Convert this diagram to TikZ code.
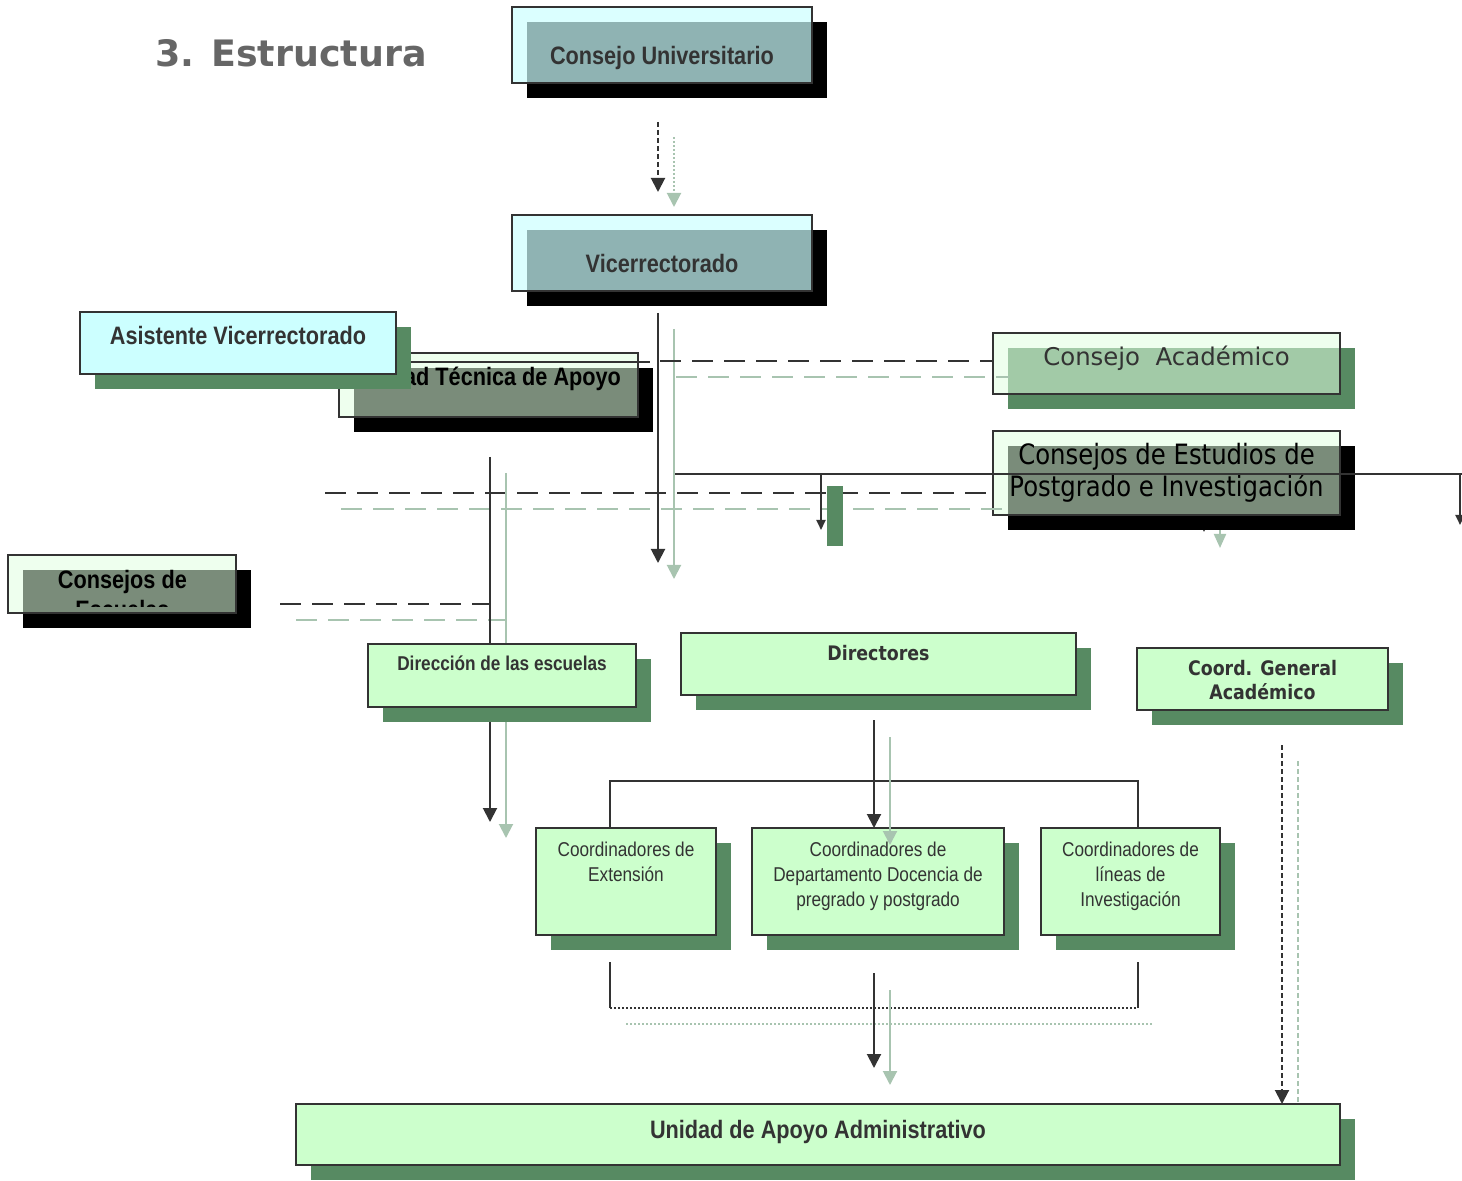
\documentclass[tikz,border=0pt]{standalone}
\usepackage{fontspec}
\setmainfont{Liberation Sans}
\newfontfamily\narrowfont{Liberation Sans}[FakeStretch=0.86]
\newfontfamily\dejafont{DejaVu Sans}
\newfontfamily\dejacond{DejaVu Sans}[FakeStretch=0.87]
\usetikzlibrary{arrows.meta,shadows,calc}

\definecolor{ink}{HTML}{333333}
\definecolor{shadeline}{HTML}{A8C4B0}
\definecolor{boxshadow}{HTML}{578A62}
\definecolor{cyanfill}{HTML}{CCFFFF}
\definecolor{greenfill}{HTML}{CCFFCC}
\definecolor{glassgreen}{HTML}{E0FFE0}
\definecolor{titlegray}{HTML}{666666}

% fonts of the boxes
\newcommand{\bxTitle}{\dejafont\bfseries\fontsize{18.2}{22}\selectfont}
\newcommand{\bxBold}{\narrowfont\bfseries\fontsize{12.6}{15}\selectfont}
\newcommand{\bxSmallBold}{\narrowfont\bfseries\fontsize{10}{12.5}\selectfont}
\newcommand{\bxSmall}{\narrowfont\fontsize{10}{12.5}\selectfont}
\newcommand{\bxWide}{\dejafont\fontsize{12.2}{15}\selectfont}
\newcommand{\bxCond}{\dejacond\fontsize{14}{16}\selectfont}
\newcommand{\bxCondBold}{\dejacond\bfseries\fontsize{10}{12}\selectfont}

% box text: width, height, first baseline (px), text
\newdimen\pxu \pxu=0.5pt
\newcommand{\boxtext}[4]{\parbox[c][#2\pxu][t]{#1\pxu}{\centering
  \vspace*{\dimexpr#3\pxu-16pt\relax}\rule{0pt}{16pt}#4}}

\tikzset{
  frontbox/.style={draw=ink, line width=1pt, inner sep=0pt, outer sep=0pt,
    anchor=north west, text=ink},
  plainbox/.style={frontbox, fill=#1,
    general shadow={fill=boxshadow, shadow xshift=7.5pt, shadow yshift=-7.5pt}},
  cyanglass/.style={frontbox, fill=cyanfill, fill opacity=0.7, text opacity=1,
    general shadow={fill=black, fill opacity=1, shadow xshift=7.5pt, shadow yshift=-7.5pt}},
  greenglass/.style={frontbox, fill=glassgreen, fill opacity=0.55, text opacity=1,
    general shadow={fill=#1, fill opacity=1, shadow xshift=7.5pt, shadow yshift=-7.5pt}},
  lineink/.style={draw=ink, line width=1pt},
  lineshade/.style={draw=shadeline, line width=1pt},
  tip/.style={-{Triangle[width=7pt,length=7pt]}},
  smalltip/.style={-{Triangle[width=4.5pt,length=5pt]}},
  longdash/.style={dash pattern=on 10.5pt off 5.5pt},
  shortdash/.style={dash pattern=on 2.5pt off 1.5pt},
  sidedash/.style={dash pattern=on 2.5pt off 1.5pt},
  finedot/.style={dash pattern=on 1pt off 1pt}
}

\begin{document}
\begin{tikzpicture}[x=0.5pt, y=-0.5pt]
  \useasboundingbox (0,0) rectangle (1462,1181);
  \node[anchor=base west, inner sep=0pt, text=titlegray, font=\bxTitle] (title) at (155,67) {3. Estructura};

  \node[cyanglass] (cu) at (512,7) {\boxtext{300}{76}{58}{\bxBold Consejo Universitario}};
  \node[cyanglass] (vr) at (512,215) {\boxtext{300}{76}{58}{\bxBold Vicerrectorado}};
  \draw[lineshade, finedot, tip] ($(cu.south)+(12,54)$) -- ($(vr.north)+(12,-8)$);
  \draw[lineink, shortdash, tip] ($(cu.south)+(-4,39)$) -- ($(vr.north)+(-4,-23)$);

  \coordinate (vrfoot) at (658,563);
  \draw[lineshade, tip] ($(vr.south)+(12,38)$) -- ($(vrfoot)+(16,16)$);
  \draw[lineink, tip] ($(vr.south)+(-4,22)$) -- (vrfoot);

  \node[greenglass=boxshadow] (ca) at (993,333) {\boxtext{347}{61}{33}{\bxWide Consejo\ \ Académico}};
  \draw[lineshade, longdash] ($(vr.south)+(14,86)$) -- ($(ca.north west)+(16,44)$);
  \draw[lineink, longdash] ($(vr.south)+(-2,70)$) -- ($(ca.north west)+(0,28)$);

  % bar under the councils
  \coordinate (bar) at (675,474);
  \draw[lineshade, -{Triangle[width=6pt,length=7pt]}] ($(bar)+(545,16)$) -- ++(0,58);
  \draw[lineink, smalltip] ($(bar)+(529,0)$) -- ++(0,58);
  \node[greenglass=black] (cepi) at (993,431) {\boxtext{347}{84}{34}{\color{black}\bxCond Consejos de Estudios de\\Postgrado e Investigación}};
  \coordinate (midleft) at (325,493);
  \draw[lineshade, longdash] ($(midleft)+(16,16)$) -- ($(cepi.south west)+(16,-6)$);
  \draw[lineink, longdash] (midleft) -- ($(cepi.south west)+(0,-22)$);
  \draw[lineink] (bar) -- ++(800,0);
  \draw[lineink, smalltip] ($(bar)+(146,0)$) -- ++(0,56);
  \draw[lineink, smalltip] ($(bar)+(785,0)$) -- ++(0,51);
  \fill[boxshadow] ($(bar)+(152,12)$) rectangle ++(16,60);

  \node[greenglass=black] (uta) at (339,353) {\boxtext{299}{64}{33}{\color{black}\bxBold Unidad Técnica de Apoyo}};
  \draw[lineink] ($(uta.north west)+(57,9)$) -- ($(uta.north east)+(12,9)$);
  \node[plainbox=cyanfill] (as) at (80,312) {\boxtext{316}{62}{33}{\bxBold Asistente Vicerrectorado}};

  \node[greenglass=black, minimum width=114pt, minimum height=29pt] (ce) at (8,555) {};
  \begin{scope}
    \clip (ce.north west) rectangle ($(ce.south east)+(0,-6)$);
    \node[inner sep=0pt, anchor=north west, text=black] (cetext) at (ce.north west)
      {\boxtext{228}{58}{33}{\bxBold Consejos de\\Escuelas}};
  \end{scope}
  \draw[lineshade, longdash] ($(ce.east)+(60,36)$) -- ($(ce.east)+(270,36)$);
  \draw[lineink, longdash] ($(ce.east)+(44,20)$) -- ($(ce.east)+(254,20)$);

  \draw[lineshade, tip] ($(uta.south)+(17.5,56)$) -- ++(0,365);
  \draw[lineink, tip] ($(uta.south)+(1.5,40)$) -- ++(0,365);
  \node[plainbox=greenfill] (dir) at (368,644) {\boxtext{268}{63}{27}{\bxSmallBold Dirección de las escuelas}};
  \node[plainbox=greenfill] (dirs) at (681,633) {\boxtext{395}{62}{27}{\bxCondBold Directores}};
  \node[plainbox=greenfill] (cga) at (1137,648) {\boxtext{251}{62}{27}{\bxCondBold Coord. General\\Académico}};

  \node[plainbox=greenfill] (cext) at (536,828) {\boxtext{180}{107}{28}{\bxSmall Coordinadores de\\Extensión}};
  \node[plainbox=greenfill] (cdep) at (752,828) {\boxtext{252}{107}{28}{\bxSmall Coordinadores de\\Departamento Docencia de\\pregrado y postgrado}};
  \node[plainbox=greenfill] (clin) at (1041,828) {\boxtext{179}{107}{28}{\bxSmall Coordinadores de\\líneas de\\Investigación}};
  \draw[lineink] ($(cext.north west)+(74,0)$) -- ++(0,-47) -| ($(clin.north west)+(97,0)$);
  \draw[lineink, tip] ($(dirs.south)+(-4.5,25)$) -- ($(cdep.north)+(-4,0)$);
  \draw[lineshade, tip] ($(dirs.south)+(11.5,42)$) -- ($(cdep.north)+(12,17)$);

  \node[plainbox=greenfill] (uaa) at (296,1104) {\boxtext{1044}{61}{34}{\bxBold Unidad de Apoyo Administrativo}};
  \draw[lineshade, finedot] ($(cext.south west)+(90,89)$) -- ($(clin.south west)+(113,89)$);
  \draw[lineink] ($(cext.south west)+(74,27)$) -- ++(0,46);
  \draw[lineink] ($(clin.south west)+(97,27)$) -- ++(0,46);
  \draw[lineink, finedot] ($(cext.south west)+(74,73)$) -- ($(clin.south west)+(97,73)$);
  \draw[lineshade, tip] ($(cdep.south)+(12,55)$) -- ++(0,95);
  \draw[lineink, tip] ($(cdep.south)+(-4,38)$) -- ++(0,95);

  \coordinate (cgafoot) at ($(cga.south)+(19.5,35)$);
  \draw[lineshade, sidedash] ($(cgafoot)+(16,16)$) -- ($(cgafoot |- uaa.north)+(16,0)$);
  \draw[lineink, sidedash, tip] (cgafoot) -- (cgafoot |- uaa.north);
\end{tikzpicture}
\end{document}
